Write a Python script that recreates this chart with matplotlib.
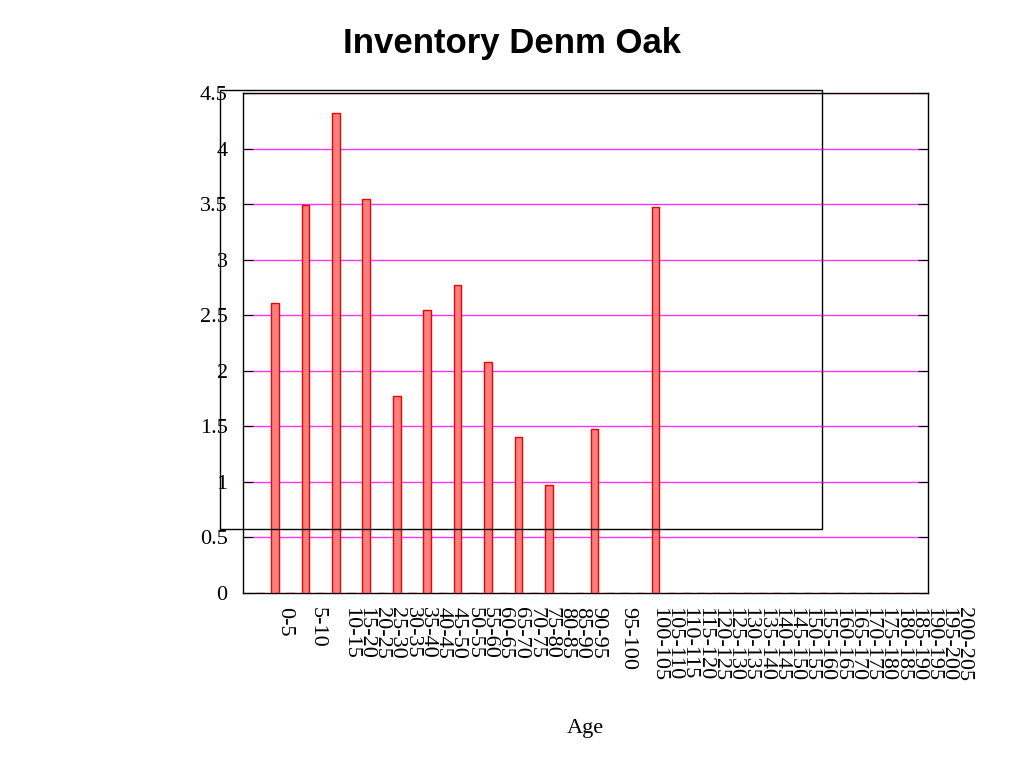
import matplotlib.pyplot as plt
from matplotlib.patches import Rectangle

# data
age_labels = ['0-5', '5-10', '10-15', '15-20', '20-25', '25-30', '30-35', '35-40',
              '40-45', '45-50', '50-55', '55-60', '60-65', '65-70', '70-75', '75-80',
              '80-85', '85-90', '90-95', '95-100', '100-105', '105-110', '110-115',
              '115-120', '120-125', '125-130', '130-135', '135-140', '140-145',
              '145-150', '150-155', '155-160', '160-165', '165-170', '170-175',
              '175-180', '180-185', '185-190', '190-195', '195-200', '200-205']

# one value per plotted row (44 rows), most rows are empty
bar_values = [0, 2.61, 0, 3.49, 0, 4.32, 0, 3.55, 0, 1.77, 0, 2.55, 0, 2.77, 0, 2.08,
              0, 1.40, 0, 0.97, 0, 0, 1.48, 0, 0, 0, 3.47, 0, 0, 0, 0, 0, 0, 0, 0, 0,
              0, 0, 0, 0, 0, 0, 0, 0]

y_ticks = [0, 0.5, 1, 1.5, 2, 2.5, 3, 3.5, 4, 4.5]
y_tick_labels = ['0', '0.5', '1', '1.5', '2', '2.5', '3', '3.5', '4', '4.5']

serif = ['Liberation Serif', 'DejaVu Serif']

fig = plt.figure(figsize=[10.24, 7.68], dpi=100)
ax = fig.add_axes([243 / 1024, 1 - 593 / 768, 685 / 1024, 500 / 768])

# bars, rows sit on a slot grid
xs = [i + 1.1 for i in range(len(bar_values))]
ax.bar(xs, bar_values, width=0.5, color='#ff7f7f', edgecolor='#ee0000',
       linewidth=1, zorder=3)

ax.set_xlim(0, 45)
ax.set_ylim(0, 4.5)

# magenta grid
for y in y_ticks[1:]:
    ax.axhline(y, color='#ff33ff', linewidth=1, zorder=1)

ax.set_yticks(y_ticks)
ax.set_yticklabels(y_tick_labels, family=serif, fontsize=16)
ax.tick_params(axis='y', direction='in', length=7, left=True, right=True, pad=11)
ax.set_xticks([])
for s in ax.spines.values():
    s.set_linewidth(1)

# x labels, positions on the slot grid (uneven in the original)
label_pos = [2.75, 4.9]
label_pos += [7.05 + 1.014 * k for k in range(17)]
label_pos += [25.3]
label_pos += [27.3 + 1.0 * k for k in range(21)]
for lab, p in zip(age_labels, label_pos):
    ax.text(p, -0.13, lab, rotation=270, ha='center', va='top',
            family=serif, fontsize=16, clip_on=False)

fig.text((243 + 928) / 2 / 1024, 1 - 728 / 768, 'Age', family=serif, fontsize=16,
         ha='center', va='center')

fig.suptitle('Inventory Denm Oak', family=['Liberation Sans', 'DejaVu Sans'],
             fontweight='bold', fontsize=25, x=0.5, y=1 - 44 / 768, va='center')

# stray empty box in the original
fig.patches.append(Rectangle((220 / 1024, 1 - 529 / 768), 602 / 1024, 439 / 768,
                             transform=fig.transFigure, fill=False,
                             edgecolor='black', linewidth=1))

fig.savefig('out.png', dpi=100)
